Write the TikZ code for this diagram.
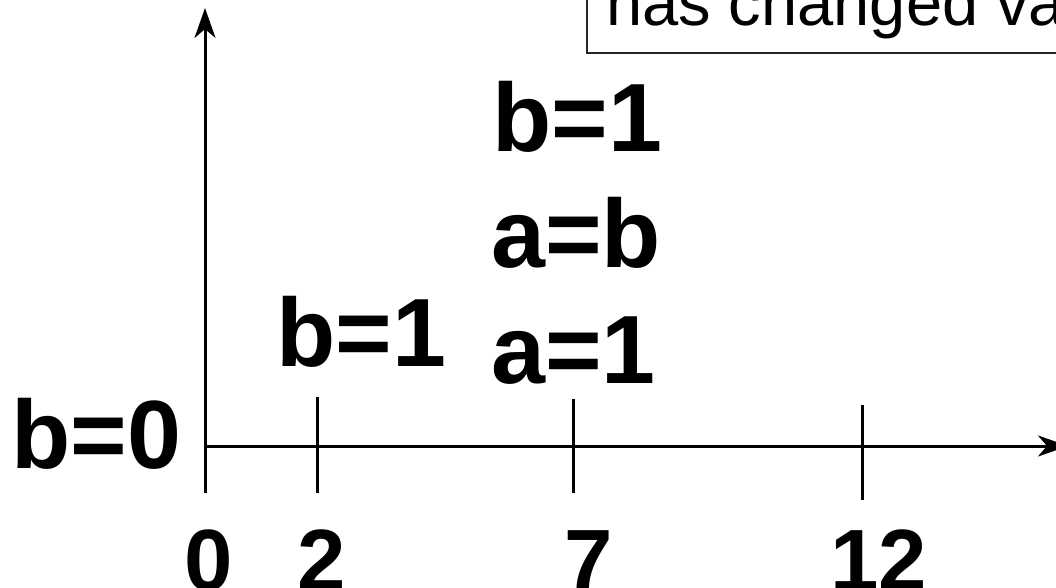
\documentclass[tikz,border=0pt]{standalone}
\usepackage{fontspec}
\setmainfont{Liberation Sans}
\usetikzlibrary{arrows.meta}
\tikzset{
  lbl/.style={anchor=base west,inner sep=0pt,font=\fontsize{97}{97}\selectfont\bfseries},
  tick/.style={anchor=base west,inner sep=0pt,font=\fontsize{87}{87}\selectfont\bfseries},
  axis/.style={line width=3pt,-{Stealth[length=30pt,width=21pt,inset=9pt]}},
  tickline/.style={line width=3pt},
  note/.style={draw=black!85,line width=1.5pt},
}
\begin{document}
\begin{tikzpicture}[x=1pt,y=-1pt]
\useasboundingbox (0,0) rectangle (1056,588);
\clip (0,0) rectangle (1056,588);
% note box
\coordinate (boxA) at (587,53);
\coordinate (boxB) at (1120,-60);
\draw[note] (boxA) rectangle (boxB);
\node[anchor=base west,inner sep=0pt,font=\fontsize{65}{65}\selectfont] (note) at (606,26) {has changed va};
% axes
\coordinate (O) at (205,446);
\coordinate (ybot) at (205,493);
\coordinate (ytop) at (205,8);
\coordinate (xend) at (1068,446);
\draw[axis] (ybot) -- (ytop);
\draw[axis] (O) -- (xend);
% ticks
\coordinate (t2a) at (317,397); \coordinate (t2b) at (317,493);
\coordinate (t7a) at (573,399); \coordinate (t7b) at (573,493);
\coordinate (t12a) at (862,405); \coordinate (t12b) at (862,500);
\draw[tickline] (t2a) -- (t2b);
\draw[tickline] (t7a) -- (t7b);
\draw[tickline] (t12a) -- (t12b);
% labels
\node[lbl] (b0) at (11,468) {b=0};
\node[lbl] (b1a) at (276,366) {b=1};
\node[lbl] (b1b) at (492,152) {b=1};
\node[lbl] (ab) at (491,267) {a=b};
\node[lbl] (a1) at (491,383) {a=1};
\node[tick] (n0) at (184,590) {0};
\node[tick] (n2) at (297,590) {2};
\node[tick] (n7) at (564,590) {7};
\node[tick] (n12) at (830,590) {12};
\end{tikzpicture}
\end{document}
